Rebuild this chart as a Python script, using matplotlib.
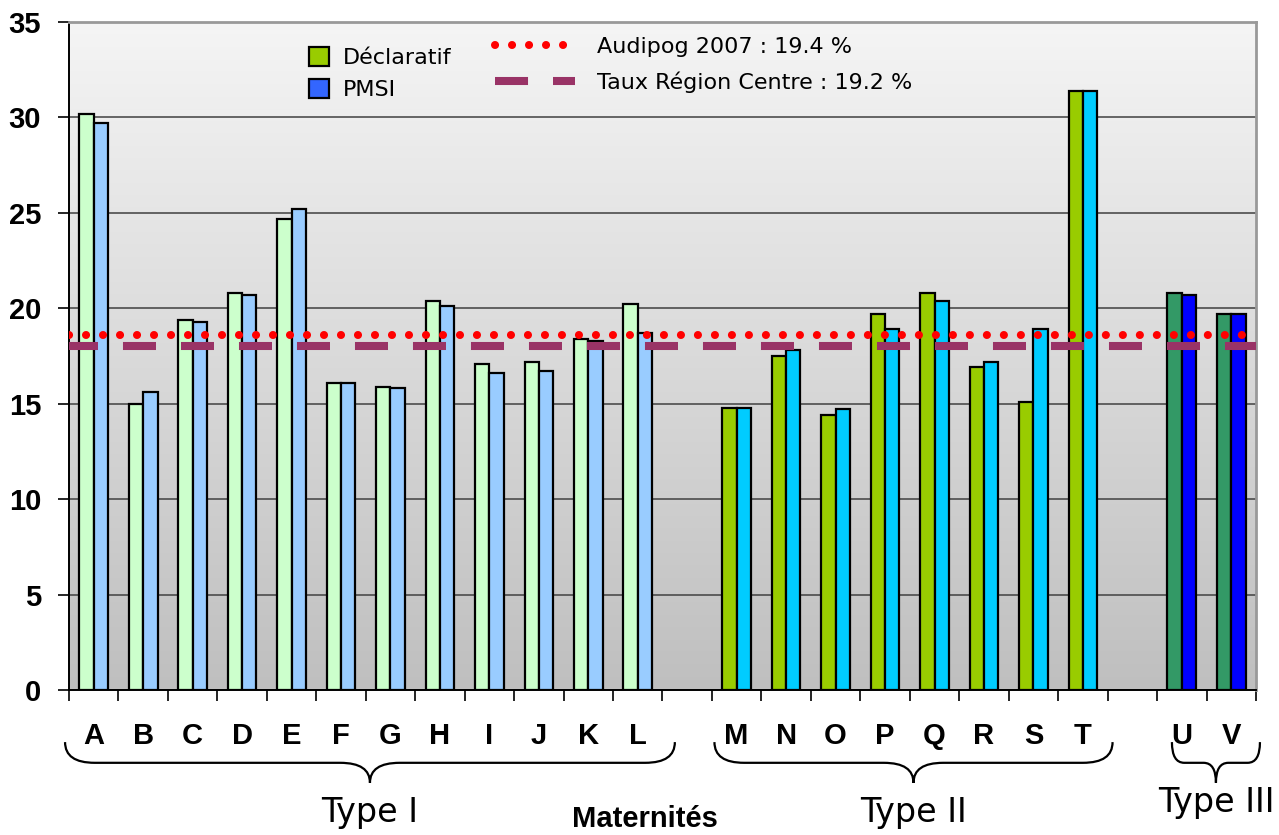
import numpy as np
import matplotlib
matplotlib.use("Agg")
import matplotlib.pyplot as plt
import matplotlib.transforms as mtransforms
from matplotlib.patches import Patch, PathPatch
from matplotlib.path import Path
from matplotlib.lines import Line2D
from matplotlib.colors import LinearSegmentedColormap

# Taux par maternité (%)
etabs_1 = ["A", "B", "C", "D", "E", "F", "G", "H", "I", "J", "K", "L"]
decl_1 = [30.2, 15.0, 19.4, 20.8, 24.7, 16.1, 15.9, 20.4, 17.1, 17.2, 18.4, 20.2]
pmsi_1 = [29.7, 15.6, 19.3, 20.7, 25.2, 16.1, 15.8, 20.1, 16.6, 16.7, 18.3, 18.7]

etabs_2 = ["M", "N", "O", "P", "Q", "R", "S", "T"]
decl_2 = [14.8, 17.5, 14.4, 19.7, 20.8, 16.9, 15.1, 31.4]
pmsi_2 = [14.8, 17.8, 14.7, 18.9, 20.4, 17.2, 18.9, 31.4]

etabs_3 = ["U", "V"]
decl_3 = [20.8, 19.7]
pmsi_3 = [20.7, 19.7]

# niveaux de référence (position tracée)
niveau_audipog = 18.6
niveau_region = 18.0

# positions : un emplacement vide entre les types
pos_1 = np.arange(len(etabs_1))
pos_2 = np.arange(len(etabs_2)) + pos_1[-1] + 2
pos_3 = np.arange(len(etabs_3)) + pos_2[-1] + 2
n_total = pos_3[-1] + 1

fig = plt.figure(figsize=(12.79, 8.35), dpi=100)
ax = fig.add_axes([69 / 1279, 1 - 690 / 835, (1256 - 69) / 1279, 668 / 835])

# fond dégradé
degrade = LinearSegmentedColormap.from_list("fond", ["#bfbfbf", "#f5f5f5"])
ax.imshow(np.linspace(0, 1, 256).reshape(-1, 1), cmap=degrade, origin="lower",
          extent=[0, 1, 0, 1], transform=ax.transAxes, aspect="auto", zorder=0)

w = 0.29
styles = [
    (pos_1, decl_1, pmsi_1, "#ccffcc", "#99ccff"),
    (pos_2, decl_2, pmsi_2, "#99cc00", "#00ccff"),
    (pos_3, decl_3, pmsi_3, "#339966", "#0000ff"),
]
for pos, d, p, cd, cp in styles:
    ax.bar(pos - w / 2, d, w, color=cd, edgecolor="black", linewidth=1.6, zorder=3)
    ax.bar(pos + w / 2, p, w, color=cp, edgecolor="black", linewidth=1.6, zorder=3)

ax.axhline(niveau_audipog, color="#ff0000", lw=5.8, linestyle=(0, (0.01, 2.1)),
           dash_capstyle="round", zorder=5)
ax.axhline(niveau_region, color="#993366", lw=5.8, linestyle=(0.5, (4.1, 3.1)),
           zorder=4)

ax.set_xlim(-0.5, n_total - 0.5)
ax.set_ylim(0, 35)

# axes
yt = np.arange(0, 36, 5)
ax.set_yticks(yt, labels=[str(v) for v in yt], fontsize=21, fontweight="bold",
              family="Liberation Sans")
ax.yaxis.grid(True, color="#404040", lw=1.1, zorder=1)
ax.set_axisbelow(True)
ax.tick_params(axis="y", length=8, width=1.2, pad=12)

ax.set_xticks(np.arange(n_total + 1) - 0.5)
ax.set_xticklabels([])
ax.tick_params(axis="x", which="major", length=8, width=1.2, direction="out")
centres = np.concatenate([pos_1, pos_2, pos_3])
ax.set_xticks(centres, minor=True)
ax.set_xticklabels(etabs_1 + etabs_2 + etabs_3, minor=True,
                   fontsize=21, fontweight="bold", family="Liberation Sans")
ax.tick_params(axis="x", which="minor", length=0, pad=23)

for s in ["left", "bottom"]:
    ax.spines[s].set_color("black")
    ax.spines[s].set_linewidth(1.4)
for s in ["top", "right"]:
    ax.spines[s].set_color("#999999")
    ax.spines[s].set_linewidth(2)

# légendes
leg1 = fig.legend(handles=[Patch(facecolor="#99cc00", edgecolor="black", lw=1.6),
                           Patch(facecolor="#3366ff", edgecolor="black", lw=1.6)],
                  labels=["Déclaratif", "PMSI"], loc="upper left",
                  bbox_to_anchor=(298 / 1279, 1 - 36 / 835), frameon=False,
                  fontsize=16, handlelength=0.9, handleheight=0.9,
                  labelspacing=0.5, handletextpad=0.6, borderpad=0)
leg2 = fig.legend(handles=[Line2D([], [], color="#ff0000", lw=5.8, linestyle=(0, (0.01, 2.1)),
                                  dash_capstyle="round"),
                           Line2D([], [], color="#993366", lw=5.8, linestyle=(0, (4.1, 3.1)))],
                  labels=["Audipog 2007 : 19.4 %", "Taux Région Centre : 19.2 %"],
                  loc="upper left", bbox_to_anchor=(484 / 1279, 1 - 26 / 835),
                  frameon=False, fontsize=16, handlelength=3.6,
                  labelspacing=0.65, handletextpad=1.0, borderpad=0)


# accolades sous les lettres
def accolade(x0, x1, r):
    xm = (x0 + x1) / 2
    yh, ym, yb = -0.078, -0.109, -0.139
    verts = [(x0, yh), (x0, ym), (x0 + r, ym), (xm - r, ym), (xm, ym), (xm, yb),
             (x1, yh), (x1, ym), (x1 - r, ym), (xm + r, ym), (xm, ym), (xm, yb)]
    codes = [Path.MOVETO, Path.CURVE3, Path.CURVE3, Path.LINETO, Path.CURVE3, Path.CURVE3] * 2
    trans = mtransforms.blended_transform_factory(ax.transData, ax.transAxes)
    ax.add_patch(PathPatch(Path(verts, codes), facecolor="none", edgecolor="black",
                           lw=1.6, transform=trans, clip_on=False))
    return xm


trans = mtransforms.blended_transform_factory(ax.transData, ax.transAxes)
xm1 = accolade(pos_1[0] - 0.58, pos_1[-1] + 0.75, 0.6)
xm2 = accolade(pos_2[0] - 0.45, pos_2[-1] + 0.6, 0.6)
xm3 = accolade(pos_3[0] - 0.2, pos_3[-1] + 0.58, 0.25)
ax.text(xm1, -0.183, "Type I", transform=trans, ha="center", va="center", fontsize=24)
ax.text(xm2, -0.183, "Type II", transform=trans, ha="center", va="center", fontsize=24)
ax.text(xm3, -0.168, "Type III", transform=trans, ha="center", va="center", fontsize=24)
ax.text(645 / 1279, 1 - 819 / 835, "Maternités", transform=fig.transFigure,
        ha="center", va="center", fontsize=21, fontweight="bold", family="Liberation Sans")

fig.savefig("out.png", dpi=100)
plt.close(fig)
